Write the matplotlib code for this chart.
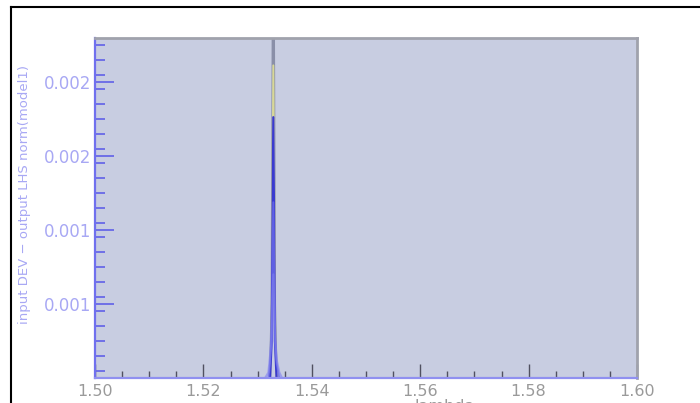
import numpy as np
import matplotlib
matplotlib.use('Agg')
import matplotlib.pyplot as plt
from matplotlib.lines import Line2D
from matplotlib.ticker import MultipleLocator, FixedLocator

# wavelength samples around the resonance
lam = [1.500, 1.5310, 1.5320, 1.5323, 1.5326, 1.5329, 1.5332, 1.5335, 1.5340, 1.5350, 1.600]

# each curve one series
gray_vals   = [0.0005, 0.0005, 0.00052, 0.0006, 0.0010, 0.0032, 0.0010, 0.0006, 0.00052, 0.0005, 0.0005]
yellow_vals = [0.0005, 0.0005, 0.00052, 0.0006, 0.0009, 0.00229, 0.0009, 0.0006, 0.00052, 0.0005, 0.0005]
dark_vals   = [0.0005, 0.0005, 0.00052, 0.0006, 0.0008, 0.00201, 0.0008, 0.0006, 0.00052, 0.0005, 0.0005]
light_vals  = [0.0005, 0.00056, 0.00060, 0.00068, 0.0009, 0.00155, 0.0009, 0.00068, 0.00060, 0.00056, 0.0005]
pale_vals   = [0.0005, 0.00058, 0.00063, 0.00072, 0.0008, 0.00116, 0.0008, 0.00070, 0.00063, 0.00057, 0.0005]

y_ticks = [0.0010, 0.0014, 0.0018, 0.0022]
x_ticks = [1.50, 1.52, 1.54, 1.56, 1.58, 1.60]

fig = plt.figure(figsize=(7, 4.03), dpi=100)
ax = fig.add_axes([95/700, 25/403, 542/700, 340/403])
ax.set_facecolor('#c8cde1')

ax.plot(lam, gray_vals, color='#8a8fa8', lw=1.6)
ax.plot(lam, yellow_vals, color='#d8d898', lw=1.4)
ax.plot(lam, dark_vals, color='#3a3ad0', lw=1.6)
ax.plot(lam, light_vals, color='#6a6ae8', lw=1.4, alpha=0.8)
ax.plot(lam, pale_vals, color='#8080f0', lw=1.6, alpha=0.6)

ax.set_xlim(1.50, 1.60)
ax.set_ylim(0.0006, 0.002438)

ax.xaxis.set_major_locator(FixedLocator(x_ticks))
ax.xaxis.set_minor_locator(MultipleLocator(0.005))
ax.set_xticklabels(['%.2f' % v for v in x_ticks])
ax.yaxis.set_major_locator(FixedLocator(y_ticks))
ax.yaxis.set_minor_locator(MultipleLocator(0.00008))
ax.set_yticklabels(['%.3f' % v for v in y_ticks])

ax.tick_params(axis='x', which='major', direction='in', length=10, width=1,
               color='#505060', labelcolor='#9a9a9a', labelsize=11.5, pad=4)
ax.tick_params(axis='x', which='minor', direction='in', length=5, width=1, color='#505060')
ax.tick_params(axis='y', which='major', direction='in', length=14, width=1.2,
               color='#6060e8', labelcolor='#a8a8f4', labelsize=12, pad=3)
ax.tick_params(axis='y', which='minor', direction='in', length=7, width=1.2, color='#6060e8')

ax.spines['left'].set_color('#7070ee')
ax.spines['left'].set_linewidth(1.6)
ax.spines['bottom'].set_color('#9090f0')
ax.spines['bottom'].set_linewidth(1.6)
for s in ['top', 'right']:
    ax.spines[s].set_color('#a0a2ac')
    ax.spines[s].set_linewidth(2)

ax.set_ylabel('input DEV \u2212 output LHS norm(model1)', color='#a8a8f4', fontsize=9.5)
ax.yaxis.set_label_coords(-0.118, 0.54)
ax.set_xlabel('lambda', color='#9a9a9a', fontsize=11.5)
ax.xaxis.set_label_coords(0.646, -0.062)

# frame of the original window
fig.add_artist(Line2D([11/700, 1.0], [1 - 7/403, 1 - 7/403], color='black', lw=1.5))
fig.add_artist(Line2D([11/700, 11/700], [0.0, 1 - 7/403], color='black', lw=1.5))

fig.savefig('out.png', dpi=100)
